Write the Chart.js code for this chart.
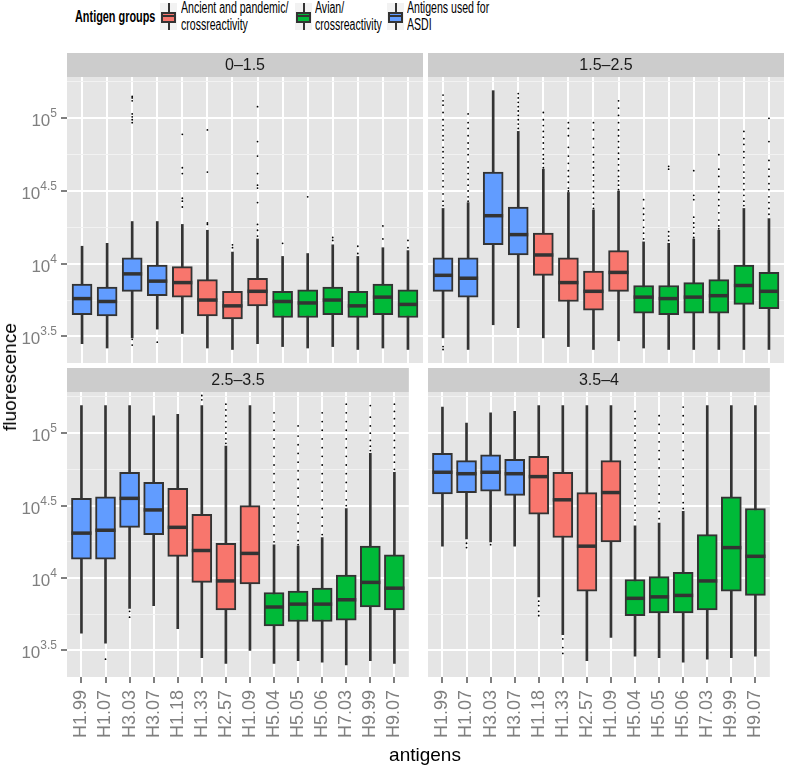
<!DOCTYPE html>
<html>
<head>
<meta charset="utf-8">
<script src="https://cdn.jsdelivr.net/npm/chart.js@4"></script>
<style>
  body { margin: 0; background: #fff; width: 787px; height: 768px; position: relative; overflow: hidden;
         font-family: "Liberation Sans", Arial, sans-serif; }
  canvas { position: absolute; }
  .narrow { transform: scaleX(0.66); transform-origin: left top; white-space: nowrap; }
  #legTitle { position: absolute; left: 75px; top: 7px; font-size: 17px; font-weight: bold; color: #000; transform: scaleX(0.64); }
  .key { position: absolute; top: 3px; width: 17px; height: 27px; background: #F2F2F2; }
  .key .wh { position: absolute; left: 7.5px; top: 0; width: 2px; height: 27px; background: #333; }
  .key .bx { position: absolute; left: 1px; top: 9px; width: 11px; height: 7px; border: 2px solid #333; }
  .key .md { position: absolute; left: 1px; top: 12px; width: 15px; height: 2px; background: #333; }
  .legText { position: absolute; top: -1px; font-size: 16px; line-height: 17px; color: #000; }
  #ytitle { position: absolute; left: 10px; top: 377px; font-size: 19px; color: #000;
            transform: translate(-50%, -50%) rotate(-90deg); white-space: nowrap; }
  #xtitle { position: absolute; left: 425px; top: 755px; font-size: 19px; color: #000;
            transform: translate(-50%, -50%); }
</style>
</head>
<body>
<div id="legTitle" class="narrow">Antigen groups</div>
<div class="key" style="left:160px"><div class="wh"></div><div class="bx" style="background:#F8766D"></div><div class="md"></div></div>
<div class="legText narrow" style="left:181px">Ancient and pandemic/<br>crossreactivity</div>
<div class="key" style="left:295px"><div class="wh"></div><div class="bx" style="background:#00BA38"></div><div class="md"></div></div>
<div class="legText narrow" style="left:315px">Avian/<br>crossreactivity</div>
<div class="key" style="left:387px"><div class="wh"></div><div class="bx" style="background:#619CFF"></div><div class="md"></div></div>
<div class="legText narrow" style="left:407px">Antigens used for<br>ASDI</div>

<canvas id="p1" width="423" height="310" style="left:0;top:53px"></canvas>
<canvas id="p2" width="356" height="310" style="left:428px;top:53px"></canvas>
<canvas id="p3" width="423" height="377" style="left:0;top:368px"></canvas>
<canvas id="p4" width="356" height="377" style="left:428px;top:368px"></canvas>

<div id="ytitle">fluorescence</div>
<div id="xtitle">antigens</div>

<script>
// values are log10(fluorescence)
const antigens = ['H1.99', 'H1.07', 'H3.03', 'H3.07', 'H1.18', 'H1.33', 'H2.57', 'H1.09',
                  'H5.04', 'H5.05', 'H5.06', 'H7.03', 'H9.99', 'H9.07'];
const groups = ['asdi', 'asdi', 'asdi', 'asdi', 'ancient', 'ancient', 'ancient', 'ancient',
                'avian', 'avian', 'avian', 'avian', 'avian', 'avian'];
const groupColors = { ancient: '#F8766D', avian: '#00BA38', asdi: '#619CFF' };
const panelNames = ['0\u20131.5', '1.5\u20132.5', '2.5\u20133.5', '3.5\u20134'];
const yTickExponents = [3.5, 4, 4.5, 5];
const yMinorExponents = [3.75, 4.25, 4.75, 5.25];

// panel 0-1.5
const p1Low  = [3.45, 3.42, 3.49, 3.55, 3.52, 3.42, 3.41, 3.45, 3.43, 3.42, 3.43, 3.41, 3.42, 3.41];
const p1Q1   = [3.65, 3.64, 3.81, 3.78, 3.77, 3.64, 3.62, 3.71, 3.63, 3.63, 3.65, 3.63, 3.65, 3.63];
const p1Med  = [3.76, 3.74, 3.93, 3.88, 3.87, 3.75, 3.71, 3.81, 3.74, 3.73, 3.75, 3.71, 3.77, 3.72];
const p1Q3   = [3.86, 3.84, 4.04, 3.99, 3.98, 3.89, 3.81, 3.90, 3.81, 3.82, 3.84, 3.81, 3.86, 3.82];
const p1High = [4.12, 4.14, 4.29, 4.29, 4.27, 4.23, 4.08, 4.17, 4.05, 4.07, 4.13, 4.05, 4.11, 4.09];
const p1Out = [
  [], [], [5.15, 5.14, 5.12, 5.03, 5.01, 4.99, 4.97, 3.48, 3.44], [3.46],
  [4.89, 4.66, 4.62, 4.45, 4.43, 4.39], [4.92, 4.63, 4.28, 4.27], [4.13, 4.11],
  [5.08, 4.84, 4.74, 4.62, 4.54, 4.52, 4.42, 4.27, 4.23, 4.19],
  [4.14], [4.46], [4.18, 4.16], [4.12, 4.07], [4.26, 4.17], [4.16, 4.11]
];

// panel 1.5-2.5
const p2Low  = [3.49, 3.41, 3.58, 3.56, 3.49, 3.43, 3.41, 3.47, 3.42, 3.41, 3.41, 3.41, 3.41, 3.41];
const p2Q1   = [3.81, 3.77, 4.13, 4.06, 3.92, 3.74, 3.68, 3.81, 3.66, 3.65, 3.66, 3.66, 3.72, 3.69];
const p2Med  = [3.92, 3.90, 4.33, 4.20, 4.06, 3.87, 3.81, 3.94, 3.77, 3.76, 3.77, 3.78, 3.85, 3.81];
const p2Q3   = [4.04, 4.04, 4.63, 4.39, 4.21, 4.04, 3.95, 4.09, 3.85, 3.85, 3.87, 3.89, 3.99, 3.94];
const p2High = [4.38, 4.42, 5.19, 4.91, 4.65, 4.49, 4.37, 4.50, 4.15, 4.14, 4.17, 4.23, 4.38, 4.31];
const p2Out = [
  [5.16, 5.12, 5.09, 5.04, 4.99, 4.95, 4.92, 4.88, 4.85, 4.80, 4.77, 4.73, 4.69, 4.65, 4.62, 4.57, 4.53, 4.48, 4.43, 4.40, 3.43, 3.41],
  [5.03, 4.97, 4.93, 4.88, 4.83, 4.79, 4.75, 4.70, 4.66, 4.62, 4.58, 4.54, 4.50, 4.46, 4.43],
  [],
  [5.17, 5.14, 5.11, 5.08, 5.05, 5.02, 4.99, 4.96, 4.93],
  [5.04, 4.99, 4.95, 4.91, 4.87, 4.83, 4.79, 4.75, 4.72, 4.69, 4.66],
  [4.97, 4.93, 4.88, 4.80, 4.74, 4.69, 4.64, 4.60, 4.56, 4.52, 4.50],
  [4.97, 4.92, 4.86, 4.80, 4.75, 4.70, 4.66, 4.61, 4.57, 4.53, 4.49, 4.45, 4.41, 4.38],
  [5.12, 5.07, 5.02, 4.97, 4.92, 4.88, 4.84, 4.80, 4.76, 4.72, 4.68, 4.64, 4.60, 4.57, 4.54, 4.51],
  [4.44, 4.38, 4.34, 4.30, 4.25, 4.21, 4.17],
  [4.67, 4.65, 4.22, 4.19, 4.16],
  [4.64, 4.47, 4.44, 4.32, 4.28, 4.25, 4.21, 4.18],
  [4.75, 4.65, 4.60, 4.53, 4.49, 4.44, 4.40, 4.35, 4.30, 4.26, 4.24],
  [4.91, 4.86, 4.82, 4.77, 4.73, 4.68, 4.63, 4.59, 4.55, 4.51, 4.47, 4.43, 4.40],
  [5.00, 4.84, 4.71, 4.65, 4.60, 4.55, 4.51, 4.46, 4.42, 4.38, 4.34]
];

// panel 2.5-3.5
const p3Low  = [3.62, 3.55, 3.79, 3.81, 3.65, 3.45, 3.41, 3.50, 3.41, 3.43, 3.42, 3.40, 3.43, 3.41];
const p3Q1   = [4.13, 4.13, 4.35, 4.30, 4.15, 3.97, 3.78, 3.96, 3.67, 3.70, 3.70, 3.71, 3.80, 3.78];
const p3Med  = [4.31, 4.33, 4.55, 4.47, 4.35, 4.19, 3.98, 4.17, 3.80, 3.82, 3.82, 3.85, 3.97, 3.93];
const p3Q3   = [4.55, 4.56, 4.73, 4.66, 4.62, 4.44, 4.24, 4.50, 3.90, 3.91, 3.93, 4.02, 4.22, 4.16];
const p3High = [5.19, 5.19, 5.19, 5.12, 5.13, 5.19, 4.91, 5.19, 4.23, 4.22, 4.28, 4.48, 4.86, 4.73];
const p3Out = [
  [], [3.44], [3.77, 3.73], [], [], [5.23, 5.26],
  [5.20, 5.16, 5.12, 5.08, 5.04, 5.00, 4.96, 4.93], [],
  [5.14, 5.08, 5.02, 4.96, 4.90, 4.84, 4.78, 4.72, 4.66, 4.60, 4.54, 4.48, 4.42, 4.36, 4.30, 4.25],
  [5.05, 4.98, 4.92, 4.86, 4.80, 4.74, 4.68, 4.62, 4.56, 4.50, 4.44, 4.38, 4.32, 4.26, 4.23],
  [5.14, 5.08, 5.02, 4.96, 4.90, 4.84, 4.78, 4.72, 4.66, 4.60, 4.54, 4.48, 4.42, 4.36, 4.30],
  [5.20, 5.14, 5.08, 5.02, 4.96, 4.90, 4.84, 4.78, 4.72, 4.66, 4.60, 4.54, 4.50],
  [5.19, 5.11, 5.05, 5.00, 4.95, 4.91, 4.88],
  [5.20, 5.15, 5.10, 5.05, 5.00, 4.95, 4.90, 4.85, 4.80, 4.75]
];

// panel 3.5-4
const p4Low  = [4.22, 4.27, 4.25, 4.22, 3.87, 3.61, 3.43, 3.59, 3.46, 3.45, 3.42, 3.44, 3.45, 3.46];
const p4Q1   = [4.58, 4.59, 4.60, 4.57, 4.44, 4.28, 3.91, 4.25, 3.74, 3.76, 3.76, 3.78, 3.91, 3.88];
const p4Med  = [4.73, 4.72, 4.73, 4.72, 4.70, 4.54, 4.22, 4.59, 3.86, 3.87, 3.88, 3.98, 4.21, 4.15];
const p4Q3   = [4.86, 4.81, 4.85, 4.82, 4.84, 4.73, 4.59, 4.81, 3.99, 4.01, 4.04, 4.30, 4.56, 4.48];
const p4High = [5.18, 5.07, 5.14, 5.15, 5.19, 5.19, 5.19, 5.19, 4.36, 4.38, 4.46, 5.19, 5.19, 5.19];
const p4Out = [
  [], [4.24, 4.21], [4.23], [], [3.84, 3.81, 3.77, 3.74], [3.58, 3.52, 3.48], [], [],
  [5.15, 5.10, 5.05, 5.00, 4.95, 4.90, 4.85, 4.80, 4.75, 4.70, 4.65, 4.60, 4.55, 4.50, 4.45, 4.40],
  [5.12, 5.06, 5.00, 4.94, 4.88, 4.82, 4.76, 4.70, 4.64, 4.58, 4.52, 4.46, 4.41],
  [5.18, 5.12, 5.06, 5.00, 4.94, 4.88, 4.82, 4.76, 4.70, 4.64, 4.58, 4.52, 4.48],
  [], [], []
];

const FONT = '"Liberation Sans", Arial, sans-serif';

// grey panel background + facet strip
const stripPlugin = {
  id: 'strip',
  beforeDraw(chart, args, opts) {
    const { ctx, chartArea: a } = chart;
    ctx.save();
    ctx.fillStyle = '#E5E5E5';
    ctx.fillRect(a.left, a.top, a.right - a.left, a.bottom - a.top);
    ctx.fillStyle = '#CCCCCC';
    ctx.fillRect(a.left, 0, a.right - a.left, a.top);
    ctx.fillStyle = '#1A1A1A';
    ctx.font = '16px ' + FONT;
    ctx.textAlign = 'center';
    ctx.textBaseline = 'middle';
    ctx.fillText(opts.text, (a.left + a.right) / 2, a.top / 2 + 1);
    ctx.restore();
  }
};

// median bars across each box
const medianPlugin = {
  id: 'medians',
  afterDatasetsDraw(chart, args, opts) {
    const { ctx, scales: { y } } = chart;
    const boxes = chart.getDatasetMeta(0).data;
    ctx.save();
    ctx.strokeStyle = '#333333';
    ctx.lineWidth = 3.5;
    boxes.forEach((bar, i) => {
      const yy = y.getPixelForValue(opts.values[i]);
      ctx.beginPath();
      ctx.moveTo(bar.x - bar.width / 2, yy);
      ctx.lineTo(bar.x + bar.width / 2, yy);
      ctx.stroke();
    });
    ctx.restore();
  }
};

// 10^x tick labels
const expLabelPlugin = {
  id: 'expLabels',
  afterDraw(chart, args, opts) {
    if (!opts.show) return;
    const { ctx, scales: { y }, chartArea } = chart;
    ctx.save();
    ctx.fillStyle = '#7F7F7F';
    ctx.textAlign = 'right';
    ctx.textBaseline = 'alphabetic';
    yTickExponents.forEach(v => {
      const yy = y.getPixelForValue(v);
      const right = chartArea.left - 10;
      const exp = String(v);
      ctx.font = '12px ' + FONT;
      const ew = ctx.measureText(exp).width;
      ctx.fillText(exp, right, yy - 1);
      ctx.font = '17px ' + FONT;
      ctx.fillText('10', right - ew, yy + 8);
    });
    ctx.restore();
  }
};

function makePanel(id, name, low, q1, med, q3, high, outs, showY, showX) {
  const colors = groups.map(g => groupColors[g]);
  const outliers = [];
  outs.forEach((list, i) => list.forEach(v => outliers.push({ x: i, y: v })));

  return new Chart(document.getElementById(id), {
    type: 'bar',
    data: {
      datasets: [{
        label: 'box',
        data: antigens.map((a, i) => ({ x: i, y: [q1[i], q3[i]] })),
        backgroundColor: colors,
        borderColor: '#333333',
        borderWidth: 2,
        borderSkipped: false,
        barThickness: 20,
        grouped: false,
        order: 1
      }, {
        label: 'whisker',
        data: antigens.map((a, i) => ({ x: i, y: [low[i], high[i]] })),
        backgroundColor: '#333333',
        borderWidth: 0,
        barThickness: 2,
        grouped: false,
        order: 2
      }, {
        type: 'scatter',
        label: 'outliers',
        data: outliers,
        backgroundColor: '#000000',
        borderWidth: 0,
        pointRadius: 0.9,
        order: 0
      }]
    },
    options: {
      responsive: false,
      animation: false,
      devicePixelRatio: 1,
      layout: { padding: { top: 24, left: 0, right: 0, bottom: 0 }, autoPadding: false },
      plugins: {
        legend: { display: false },
        tooltip: { enabled: false },
        strip: { text: name },
        medians: { values: med },
        expLabels: { show: showY }
      },
      scales: {
        x: {
          type: 'linear',
          min: -0.6,
          max: 13.6,
          offset: false,
          border: { display: false },
          grid: {
            offset: false,
            color: '#FFFFFF',
            lineWidth: 2,
            drawTicks: showX,
            tickLength: 6,
            tickColor: '#7F7F7F',
            tickWidth: 2
          },
          afterBuildTicks: s => { s.ticks = antigens.map((a, i) => ({ value: i })); },
          ticks: {
            display: showX,
            autoSkip: false,
            minRotation: 90,
            maxRotation: 90,
            padding: 7,
            color: '#7F7F7F',
            font: { family: FONT, size: 18 },
            callback: v => antigens[v]
          },
          afterFit: s => { s.height = showX ? 68 : 0; }
        },
        y: {
          type: 'linear',
          min: 3.317,
          max: 5.284,
          beginAtZero: false,
          border: { display: false },
          grid: {
            color: c => yMinorExponents.includes(c.tick.value) ? '#F2F2F2' : '#FFFFFF',
            lineWidth: c => yMinorExponents.includes(c.tick.value) ? 1 : 2,
            drawTicks: showY,
            tickLength: 6,
            tickColor: c => yMinorExponents.includes(c.tick.value) ? 'rgba(0,0,0,0)' : '#7F7F7F',
            tickWidth: 2
          },
          afterBuildTicks: s => {
            s.ticks = yTickExponents.concat(yMinorExponents).sort().map(v => ({ value: v }));
          },
          ticks: { display: false },
          afterFit: s => { s.width = showY ? 67 : 0; }
        }
      }
    },
    plugins: [stripPlugin, medianPlugin, expLabelPlugin]
  });
}

makePanel('p1', panelNames[0], p1Low, p1Q1, p1Med, p1Q3, p1High, p1Out, true, false);
makePanel('p2', panelNames[1], p2Low, p2Q1, p2Med, p2Q3, p2High, p2Out, false, false);
makePanel('p3', panelNames[2], p3Low, p3Q1, p3Med, p3Q3, p3High, p3Out, true, true);
makePanel('p4', panelNames[3], p4Low, p4Q1, p4Med, p4Q3, p4High, p4Out, false, true);
</script>
</body>
</html>
